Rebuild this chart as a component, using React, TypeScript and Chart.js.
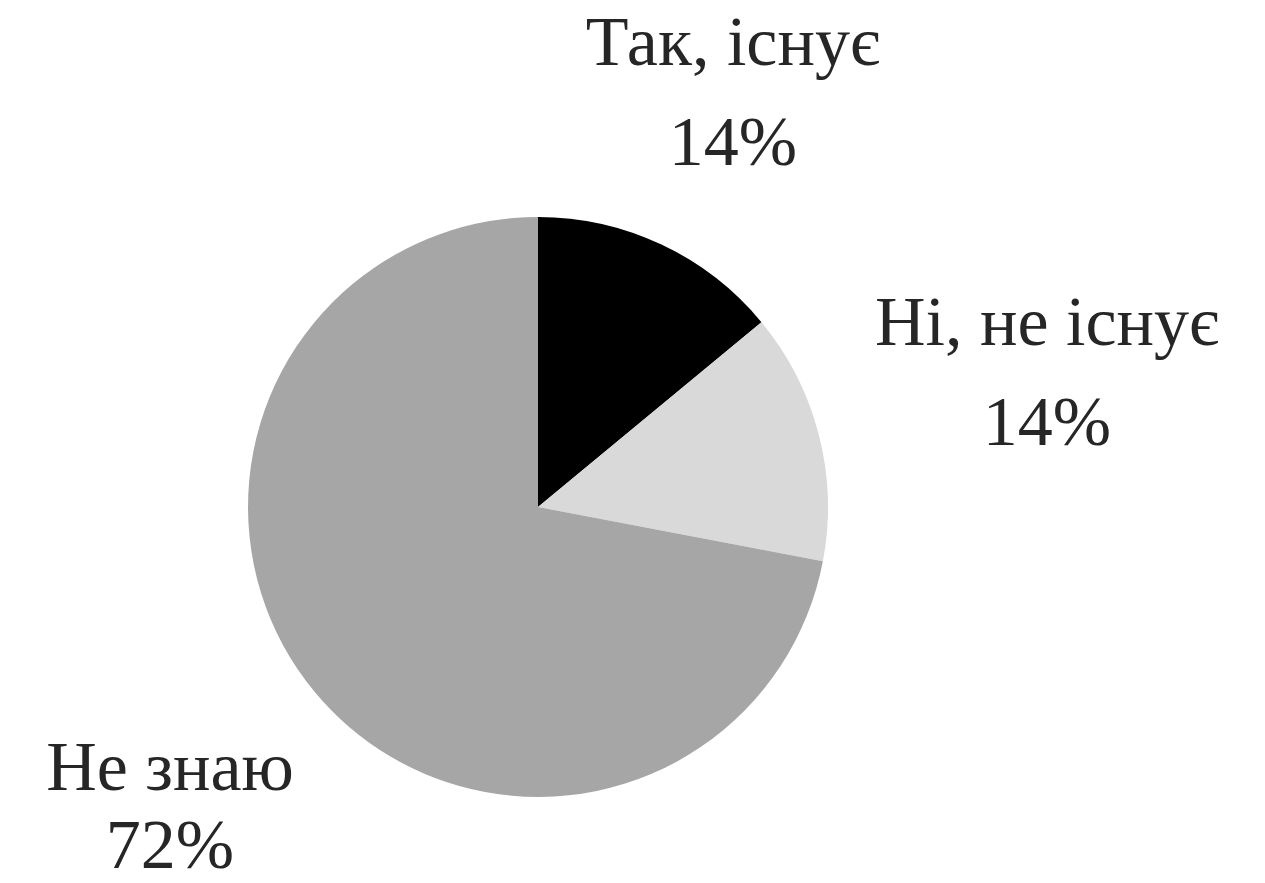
import React, { useEffect, useRef } from "react";
import { Chart, registerables } from "chart.js";

Chart.register(...registerables);

const categories = ["Так, існує", "Ні, не існує", "Не знаю"];
const values = [14, 14, 72];
const valueLabels = ["14%", "14%", "72%"];
const colors = ["#000000", "#d9d9d9", "#a6a6a6"];

const labelPlugin = {
  id: "outerLabels",
  afterDraw(chart: any, _args: any, opts: any) {
    const ctx = chart.ctx;
    const meta = chart.getDatasetMeta(0);
    ctx.save();
    ctx.fillStyle = "#262626";
    ctx.font = opts.font;
    ctx.textAlign = "center";
    ctx.textBaseline = "alphabetic";
    meta.data.forEach((arc: any, i: number) => {
      const r = arc.outerRadius;
      const px = arc.x + opts.offsets[i][0] * r;
      const py = arc.y + opts.offsets[i][1] * r;
      const gap = opts.lineGaps[i];
      ctx.fillText(categories[i], px, py - gap / 2);
      ctx.fillText(valueLabels[i], px, py + gap / 2);
    });
    ctx.restore();
  },
};

export default function App() {
  const ref = useRef<HTMLCanvasElement>(null);
  useEffect(() => {
    document.body.style.margin = "0";
    const chart = new Chart(ref.current!, {
      type: "pie",
      data: {
        labels: categories,
        datasets: [
          {
            data: values,
            backgroundColor: colors,
            borderWidth: 0,
          },
        ],
      },
      options: {
        animation: false,
        responsive: false,
        layout: { padding: { top: 217, bottom: 86, left: 248, right: 437 } },
        plugins: {
          legend: { display: false },
          tooltip: { enabled: false },
          outerLabels: {
            font: "70px 'Liberation Serif', 'DejaVu Serif', serif",
            offsets: [
              [0.672, -1.352],
              [1.755, -0.386],
              [-1.269, 1.110],
            ],
            lineGaps: [100, 100, 78],
          },
        } as any,
      },
      plugins: [labelPlugin],
    });
    return () => chart.destroy();
  }, []);
  return (
    <div style={{ position: "fixed", left: 0, top: 0, width: 1265, height: 883, background: "#fff" }}>
      <canvas ref={ref} width={1265} height={883} />
    </div>
  );
}
